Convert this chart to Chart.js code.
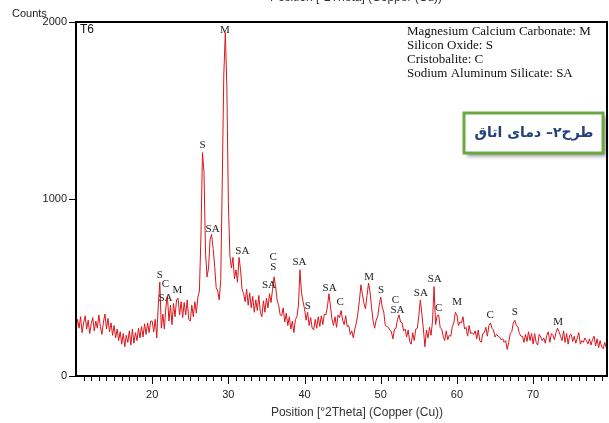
<!DOCTYPE html>
<html>
<head>
<meta charset="utf-8">
<script src="https://cdn.jsdelivr.net/npm/chart.js@4/dist/chart.umd.min.js"></script>
<style>
  html, body { margin: 0; padding: 0; background: #fff; }
  #wrap { width: 609px; height: 423px; }
</style>
</head>
<body>
<div id="wrap"><canvas id="c" width="609" height="423"></canvas></div>
<script>
// Scan grid (°2Theta)
const scanStart = 10.0;
const scanStep = 0.2;

// Counts, one array per 10° segment
const counts10to20 = [250,320,270,335,245,300,340,265,315,240,295,330,255,310,270,345,280,235,305,350,
  265,325,250,300,230,285,215,265,200,250,180,240,165,230,190,255,175,265,185,245,
  200,270,215,280,220,295,235,300,245,310];
const counts20to30 = [310,250,320,215,400,530,270,350,265,390,450,310,400,290,410,335,430,440,345,420,
  330,415,345,430,320,310,400,335,420,355,445,480,790,1262,1150,700,560,610,770,800,
  720,620,500,480,430,545,1100,1700,1940,1640];
const counts30to40 = [980,680,610,670,550,600,530,670,600,490,465,420,490,400,470,385,450,360,430,370,
  455,360,335,425,360,440,385,465,415,490,560,505,430,400,345,340,385,305,355,285,
  335,265,310,245,320,335,400,600,470,420];
const counts40to50 = [380,315,360,285,330,270,260,320,270,335,280,340,290,350,345,390,465,395,320,285,
  335,275,345,330,370,315,290,340,280,285,235,255,215,265,300,355,425,515,460,410,
  380,455,525,475,385,310,270,315,335,400];
const counts50to60 = [445,390,360,285,280,275,260,250,210,265,270,320,345,305,300,255,265,220,260,195,
  180,245,200,265,270,340,430,350,265,165,260,215,275,230,310,505,290,340,345,275,
  265,225,200,255,205,230,225,280,300,360];
const counts60to70 = [345,285,305,300,335,265,275,225,285,240,245,235,255,210,260,200,190,240,245,275,
  225,285,300,270,260,220,235,225,220,205,210,190,200,150,190,240,250,300,315,285,
  280,240,225,225,190,235,195,250,200,240];
const counts70to80 = [180,240,190,175,235,220,200,215,185,230,250,190,240,230,205,245,270,250,225,200,
  255,190,240,180,230,235,195,225,185,215,245,180,200,190,215,200,180,210,175,205,
  225,170,210,160,200,165,155,190,160];

// Axis ticks
const xMajorTicks = [20, 30, 40, 50, 60, 70];
const yTicks = [0, 1000, 2000];

// Phase labels (name, °2Theta, counts at label centre)
const peakNames   = ['S','C','SA','M','S','SA','M','SA','SA','C','S','SA','S','SA','C','M','S','C','SA','SA','SA','C','M','C','S','M'];
const peakAngles  = [21.0,21.75,21.75,23.3,26.62,27.93,29.54,31.84,35.33,35.89,35.89,39.33,40.42,43.29,44.68,48.47,50.04,51.94,52.2,55.26,57.09,57.61,60.04,64.35,67.61,73.28];
const peakHeights = [570,520,439,486,1305,829,1955,708,514,674,618,646,396,495,420,558,486,429,373,467,548,386,420,345,363,307];

// Legend lines
const legendLines = ['Magnesium Calcium Carbonate: M','Silicon Oxide: S','Cristobalite: C','Sodium Aluminum Silicate: SA'];
const sampleTag = 'T6';
const boxText = 'طرح۲– دمای اتاق';
const xTitle = 'Position [°2Theta] (Copper (Cu))';
const yTitle = 'Counts';

const allCounts = [].concat(counts10to20, counts20to30, counts30to40, counts40to50, counts50to60, counts60to70, counts70to80);
const points = allCounts.map((v, i) => ({ x: +(scanStart + i * scanStep).toFixed(2), y: v }));

const decor = {
  id: 'decor',
  afterDraw(chart) {
    const ctx = chart.ctx;
    const xs = chart.scales.x, ys = chart.scales.y;
    const a = chart.chartArea;
    ctx.save();
    // frame
    ctx.strokeStyle = '#000';
    ctx.lineWidth = 2;
    ctx.beginPath();
    ctx.moveTo(a.left, a.top); ctx.lineTo(a.right, a.top);
    ctx.lineTo(a.right, a.bottom); ctx.lineTo(a.left, a.bottom); ctx.closePath();
    ctx.stroke();
    // x ticks
    ctx.lineWidth = 1;
    ctx.beginPath();
    for (let v = 11; v <= 79; v++) {
      const px = Math.round(xs.getPixelForValue(v)) + 0.5;
      const len = (v % 10 === 0) ? 7 : 4;
      ctx.moveTo(px, a.bottom + 1); ctx.lineTo(px, a.bottom + 1 + len);
    }
    // y ticks
    yTicks.forEach(v => {
      const py = Math.round(ys.getPixelForValue(v)) + 0.5;
      ctx.moveTo(a.left - 7, py); ctx.lineTo(a.left, py);
    });
    ctx.stroke();

    // peak labels
    ctx.fillStyle = '#222';
    ctx.font = '11px "Liberation Serif", "Times New Roman", serif';
    ctx.textAlign = 'center';
    ctx.textBaseline = 'middle';
    peakNames.forEach((n, i) => {
      ctx.fillText(n, xs.getPixelForValue(peakAngles[i]), ys.getPixelForValue(peakHeights[i]));
    });

    // sample tag
    ctx.font = '12px Arial, "Liberation Sans", sans-serif';
    ctx.textAlign = 'left';
    ctx.fillStyle = '#111';
    ctx.fillText(sampleTag, a.left + 4, a.top + 8);

    // legend text
    ctx.font = '13px "Liberation Serif", "Times New Roman", serif';
    ctx.fillStyle = '#111';
    legendLines.forEach((t, i) => ctx.fillText(t, 407, 32 + i * 14));

    // y title
    ctx.font = '11px Arial, "Liberation Sans", sans-serif';
    ctx.fillStyle = '#222';
    ctx.fillText(yTitle, 12, 14);

    // x titles (bottom and clipped top)
    ctx.font = '12px Arial, "Liberation Sans", sans-serif';
    ctx.textAlign = 'center';
    ctx.fillStyle = '#333';
    ctx.fillText(xTitle, 357, 413);
    ctx.textBaseline = 'alphabetic';
    ctx.fillText(xTitle, 356, 1);

    // green box
    ctx.shadowColor = 'rgba(0,0,0,0.45)';
    ctx.shadowBlur = 4;
    ctx.shadowOffsetX = 3;
    ctx.shadowOffsetY = 3;
    ctx.fillStyle = '#fff';
    ctx.fillRect(464, 113, 139, 40);
    ctx.shadowColor = 'transparent';
    ctx.strokeStyle = '#6aa843';
    ctx.lineWidth = 3;
    ctx.strokeRect(464, 113, 139, 40);
    ctx.fillStyle = '#24407a';
    ctx.font = 'bold 14px "DejaVu Sans", sans-serif';
    ctx.direction = 'rtl';
    ctx.textAlign = 'center';
    ctx.textBaseline = 'middle';
    ctx.fillText(boxText, 534, 133);
    ctx.restore();
  }
};

new Chart(document.getElementById('c'), {
  type: 'line',
  data: {
    datasets: [{
      data: points,
      borderColor: '#d8151b',
      borderWidth: 1,
      pointRadius: 0,
      tension: 0,
      fill: false
    }]
  },
  options: {
    responsive: false,
    devicePixelRatio: 1,
    animation: false,
    layout: { padding: { left: 0, right: 2, top: 22, bottom: 0 } },
    plugins: { legend: { display: false }, tooltip: { enabled: false }, title: { display: false } },
    scales: {
      x: {
        type: 'linear',
        min: 10, max: 79.7,
        grid: { display: false, drawTicks: false },
        border: { display: false },
        afterBuildTicks: s => { s.ticks = xMajorTicks.map(v => ({ value: v })); },
        afterFit: s => { s.height = 47; },
        ticks: { padding: 12, color: '#222', font: { family: 'Arial, "Liberation Sans", sans-serif', size: 11 }, maxRotation: 0, autoSkip: false, callback: v => String(v) }
      },
      y: {
        min: 0, max: 2000,
        grid: { display: false, drawTicks: false },
        border: { display: false },
        afterBuildTicks: s => { s.ticks = yTicks.map(v => ({ value: v })); },
        afterFit: s => { s.width = 76; },
        ticks: { padding: 9, color: '#222', font: { family: 'Arial, "Liberation Sans", sans-serif', size: 11 }, callback: v => String(v) }
      }
    }
  },
  plugins: [decor]
});
</script>
</body>
</html>
